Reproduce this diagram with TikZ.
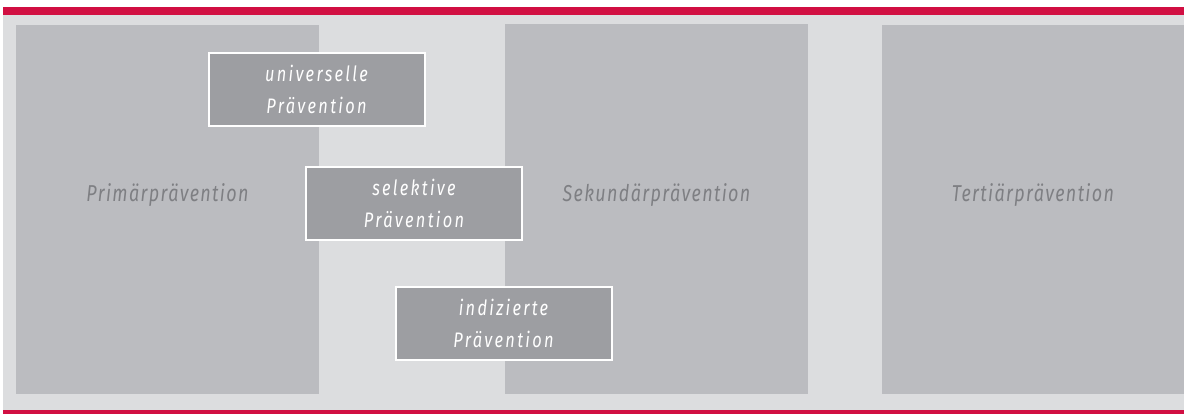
\documentclass[tikz,border=0pt]{standalone}
\usepackage{fontspec}
\newfontfamily\labfont[FakeStretch=0.78,LetterSpace=11]{Fira Sans}
\newfontfamily\plabfont[FakeStretch=0.78,LetterSpace=6]{Fira Sans}
\definecolor{redband}{HTML}{D10F42}
\definecolor{bggray}{HTML}{DCDDDF}
\definecolor{panelgray}{HTML}{BBBCC0}
\definecolor{boxgray}{HTML}{9D9EA2}
\definecolor{labgray}{HTML}{7E7F83}
\tikzset{
  panel/.style={fill=panelgray, inner sep=0pt, minimum width=303, minimum height=369},
  plabel/.style={text=labgray, font=\plabfont\itshape\fontsize{23}{26}\selectfont, anchor=base, inner sep=0pt},
  prevbox/.style={fill=boxgray, draw=white, line width=2pt, minimum width=216, minimum height=73,
    inner sep=0pt, align=center, text=white, font=\labfont\itshape\fontsize{21}{32}\selectfont}
}
\begin{document}
\begin{tikzpicture}[x=1pt,y=-1pt]
\useasboundingbox (0,0) rectangle (1184,414);
\fill[white] (0,0) rectangle (1184,414);
\fill[bggray] (3,15) rectangle (1184,410);
\fill[redband] (3,7) rectangle (1184,15);
\fill[redband] (3,410) rectangle (1184,414);
\node[panel] (p1) at (167.5,209.5) {};
\node[panel] (p2) at (656.5,209) {};
\node[panel, minimum width=302] (p3) at (1033,209.5) {};
\node[plabel] (l1) at (167.5,202) {Primärprävention};
\node[plabel] (l2) at (656.5,202) {Sekundärprävention};
\node[plabel] (l3) at (1033,202) {Tertiärprävention};
\node[prevbox] (b1) at (316.5,89.5) {universelle\\Prävention};
\node[prevbox] (b2) at (414,203.5) {selektive\\Prävention};
\node[prevbox] (b3) at (503.5,323.5) {indizierte\\Prävention};
\end{tikzpicture}
\end{document}
